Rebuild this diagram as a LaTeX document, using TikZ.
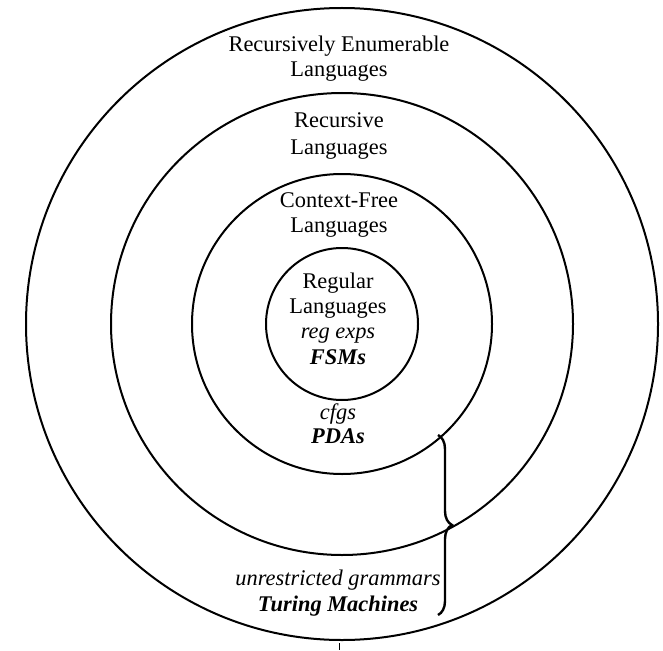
\documentclass[tikz,border=0pt]{standalone}
\usepackage{fontspec}
\setmainfont{Liberation Serif}
\usetikzlibrary{decorations.pathreplacing}
\begin{document}
\begin{tikzpicture}[x=1pt,y=-1pt,
  ring/.style={draw=black,line width=2pt},
  lab/.style={anchor=base,inner sep=0pt,font=\fontsize{22.4}{25}\selectfont},
  labi/.style={lab,font=\fontsize{22.4}{25}\selectfont\itshape},
  labb/.style={lab,font=\fontsize{22.4}{25}\selectfont\bfseries\itshape},
  bracestyle/.style={draw=black,line width=2.4pt,decorate,decoration={brace,amplitude=14pt}}]
\useasboundingbox (0,0) rectangle (663,650);
\coordinate (c) at (342,324);
\draw[ring] (c) circle[radius=316pt];
\draw[ring] (c) circle[radius=231pt];
\draw[ring] (c) circle[radius=150pt];
\draw[ring] (c) circle[radius=76pt];
% outer ring
\node[lab] (re1) at (339,52) {Recursively Enumerable};
\node[lab] (re2) at (339,77) {Languages};
% recursive
\node[lab] (rc1) at (339,128) {Recursive};
\node[lab] (rc2) at (339,154) {Languages};
% context free
\node[lab] (cf1) at (339,207) {Context-Free};
\node[lab] (cf2) at (339,232) {Languages};
% regular
\node[lab] (rg1) at (338,288) {Regular};
\node[lab] (rg2) at (338,313) {Languages};
\node[labi] (rg3) at (338,338) {reg exps};
\node[labb] (rg4) at (338,364) {FSMs};
% cf tools
\node[labi] (cf3) at (338,419) {cfgs};
\node[labb] (cf4) at (338,443) {PDAs};
% TM tools
\node[labi] (tm1) at (338,585) {unrestricted grammars};
\node[labb] (tm2) at (338,611) {Turing Machines};
% brace
\coordinate (bt) at (438,435);
\coordinate (bb) at (438,615);
\draw[bracestyle] (bt) -- (bb);
% small tick
\coordinate (t1) at (339,643);
\coordinate (t2) at (339,650);
\draw[line width=1pt] (t1) -- (t2);
\end{tikzpicture}
\end{document}
